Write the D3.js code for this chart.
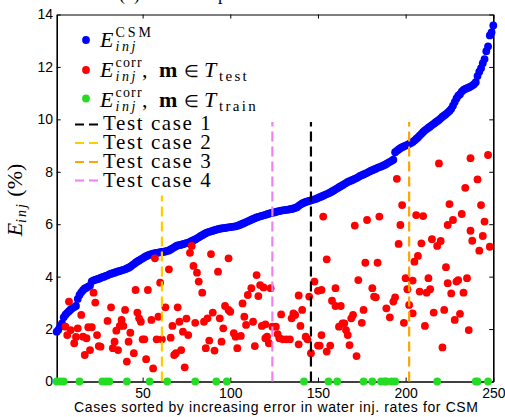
<!DOCTYPE html>
<html><head><meta charset="utf-8">
<script src="https://cdn.jsdelivr.net/npm/d3@7"></script>
<style>body{margin:0;background:#fff;} svg{display:block;}</style>
</head><body><svg id="c" width="505" height="417"></svg>
<script>
// ---- data ----
const csmError = [
1.90,1.98,2.10,2.22,2.45,2.55,2.62,2.68,2.75,2.80,
2.84,2.88,3.15,3.30,3.40,3.48,3.55,3.58,3.62,3.66,
3.82,3.86,3.88,3.90,3.92,3.95,3.98,4.00,4.03,4.05,
4.09,4.11,4.13,4.15,4.18,4.20,4.22,4.24,4.26,4.28,
4.31,4.34,4.38,4.43,4.48,4.53,4.58,4.62,4.66,4.70,
4.74,4.78,4.81,4.84,4.86,4.88,4.90,4.91,4.92,4.93,
4.94,4.95,4.96,4.98,5.00,5.04,5.08,5.12,5.16,5.19,
5.20,5.22,5.24,5.26,5.28,5.30,5.33,5.36,5.39,5.42,
5.46,5.50,5.54,5.58,5.62,5.66,5.69,5.71,5.73,5.75,
5.77,5.79,5.81,5.83,5.84,5.85,5.86,5.87,5.88,5.89,
5.90,5.91,5.92,5.94,5.96,5.99,6.02,6.05,6.08,6.11,
6.14,6.17,6.20,6.23,6.26,6.28,6.30,6.32,6.34,6.36,
6.38,6.40,6.42,6.44,6.45,6.47,6.49,6.50,6.52,6.53,
6.54,6.55,6.56,6.57,6.58,6.60,6.62,6.65,6.70,6.75,
6.79,6.82,6.85,6.87,6.89,6.91,6.93,6.95,6.97,7.00,
7.03,7.06,7.09,7.12,7.15,7.18,7.21,7.25,7.29,7.33,
7.37,7.41,7.45,7.49,7.53,7.57,7.61,7.64,7.67,7.70,
7.73,7.76,7.80,7.84,7.87,7.90,7.93,7.96,8.00,8.03,
8.06,8.09,8.12,8.15,8.18,8.20,8.23,8.26,8.30,8.34,
8.38,8.42,8.46,8.75,8.80,8.85,8.90,8.94,8.97,9.00,
9.03,9.06,9.10,9.14,9.19,9.25,9.31,9.38,9.45,9.52,
9.58,9.63,9.68,9.73,9.78,9.83,9.88,9.93,9.98,10.04,
10.10,10.15,10.20,10.26,10.32,10.40,10.52,10.66,10.80,10.90,
10.96,11.06,11.12,11.16,11.19,11.22,11.25,11.29,11.34,11.42,
11.65,11.82,11.95,12.14,12.30,12.60,12.78,13.20,13.32,13.58];

const trainCases = [1,3,5,14,27,29,31,41,54,64,80,92,98,142,156,161,176,181,186,188,189,192,194,218,240,241,247];

const testPoints = [
[8,3.05],[6,2.09],[9,1.96],[7,1.77],[11,1.46],[12,1.70],[13,2.03],[15,2.54],[16,1.71],[18,1.65],
[19,2.07],[21,2.07],[20,1.20],[17,1.01],[22,3.39],[23,3.01],[24,1.77],[25,1.35],[26,1.33],[30,2.31],
[32,2.83],[33,1.27],[34,1.52],[35,1.94],[37,2.12],[38,2.35],[39,2.12],[40,2.73],[36,1.20],[43,1.86],
[42,1.52],[45,1.08],[41,0.76],[46,3.49],[47,2.63],[48,2.41],[49,2.28],[50,1.61],[51,1.61],[52,0.85],
[53,3.49],[55,2.35],[56,0.50],[57,4.70],[58,1.61],[59,2.47],[60,3.77],[61,1.61],[63,2.83],[65,4.28],
[66,1.67],[67,2.12],[68,1.01],[69,1.08],[70,2.83],[71,2.28],[72,1.20],[73,1.90],[74,0.54],[75,2.40],
[76,1.77],[77,4.91],[78,5.17],[79,4.41],[80,2.24],[81,4.15],[82,3.81],[84,3.39],[85,2.28],[86,1.27],
[87,2.41],[88,1.56],[89,4.86],[90,2.63],[91,1.18],[93,4.19],[94,2.41],[95,1.52],[96,2.03],[97,2.88],
[99,4.70],[99,2.73],[100,2.66],[102,1.84],[103,1.71],[104,1.27],[106,1.74],[107,2.98],[108,2.47],[109,2.16],
[110,3.30],[112,3.56],[113,2.28],[114,1.35],[115,4.06],[116,3.26],[117,3.68],[118,2.12],[120,1.65],[122,1.46],
[123,3.56],[124,2.09],[119,3.59],[120,2.18],[121,1.71],[126,2.09],[127,1.81],[128,1.65],[129,2.56],[130,1.61],
[132,1.61],[134,1.61],[136,2.60],[137,2.54],[135,2.41],[139,3.28],[139,1.42],[140,2.12],[141,2.73],[143,1.71],
[144,1.61],[145,3.24],[146,1.08],[148,3.81],[150,3.46],[150,1.37],[151,1.37],[152,3.49],[152,1.77],[153,6.29],
[155,1.14],[155,4.66],[157,1.37],[158,3.08],[160,2.88],[160,3.56],[163,2.88],[162,2.09],[164,2.22],[165,2.22],
[166,1.96],[167,1.77],[168,1.39],[169,2.41],[170,2.54],[172,0.97],[171,5.95],[173,3.87],[175,2.24],[176,2.73],
[177,4.53],[178,6.16],[181,3.56],[182,3.24],[183,3.21],[184,4.53],[185,6.29],[189,2.79],[191,2.45],[193,3.05],
[194,3.21],[195,7.73],[196,5.25],[197,5.97],[198,6.73],[199,2.24],[200,3.94],[201,3.52],[202,2.92],[204,3.85],
[204,2.60],[205,4.57],[206,6.35],[207,4.79],[208,3.43],[209,5.27],[210,6.31],[211,2.12],[212,3.39],[213,3.94],
[214,3.52],[215,5.43],[216,2.63],[218,5.17],[219,8.32],[220,5.36],[221,1.30],[222,2.73],[223,4.36],[224,3.75],
[224,5.97],[225,6.77],[226,3.36],[227,6.16],[228,2.35],[229,3.81],[230,3.87],[231,2.58],[232,6.39],[233,3.39],
[234,7.39],[235,3.94],[236,1.96],[237,8.52],[237,5.75],[238,5.37],[241,7.71],[242,4.99],[243,6.73],[244,5.55],
[245,6.10],[247,8.64],[248,5.14]];

const caseNames = ["Test case 1","Test case 2","Test case 3","Test case 4"];
const caseIndex = [146, 61, 202, 124];
const caseTop = [9.9, 7.1, 9.9, 9.9];
const caseColors = ["#000000","#ffcc00","#ffa500","#ee82ee"];
const xTicks = [50,100,150,200,250];
const yTicks = [0,2,4,6,8,10,12,14];

// ---- drawing ----
const svg = d3.select("#c");
svg.append("rect").attr("width",505).attr("height",417).attr("fill","#fff");
const x = d3.scaleLinear().domain([1,250]).range([56.7,493.3]);
const y = d3.scaleLinear().domain([0,14]).range([381.5,14.5]);
const SERIF = "'Liberation Serif','Times New Roman',serif";
const SANS = "'Liberation Sans',Arial,sans-serif";

// title (clipped at the top edge, as in the reference)
svg.append("text").attr("x",119).attr("y",-0.5).attr("font-family",SERIF)
  .attr("font-size",18).text("(b) Error comparison");

// axes
function styleAxis(g){
  g.selectAll("path").attr("stroke","#000").attr("stroke-width",1.6);
  g.selectAll("line").attr("stroke","#000").attr("stroke-width",1);
  g.selectAll("text").attr("font-family",SANS).attr("font-size",14).attr("fill","#000");
}
svg.append("g").attr("transform","translate(0,381.5)")
  .call(d3.axisBottom(x).tickValues(xTicks).tickSizeInner(-4).tickSizeOuter(0).tickPadding(7)).call(styleAxis);
svg.append("g").attr("transform","translate(0,14.5)")
  .call(d3.axisTop(x).tickValues(xTicks).tickSizeInner(-4).tickSizeOuter(0).tickFormat("")).call(styleAxis)
  .selectAll("path").attr("stroke-width",1);
svg.append("g").attr("transform","translate(56.7,0)")
  .call(d3.axisLeft(y).tickValues(yTicks).tickSizeInner(-4).tickSizeOuter(0).tickPadding(3.7)).call(styleAxis);
svg.append("g").attr("transform","translate(493.3,0)")
  .call(d3.axisRight(y).tickValues(yTicks).tickSizeInner(-4).tickSizeOuter(0).tickFormat("")).call(styleAxis);

const R = 3.9;
// blue CSM
svg.append("g").selectAll("circle").data(csmError).join("circle")
  .attr("cx",(d,i)=>x(i+1)).attr("cy",d=>y(d)).attr("r",R).attr("fill","#0000ff");
// red test
svg.append("g").selectAll("circle").data(testPoints).join("circle")
  .attr("cx",d=>x(d[0])).attr("cy",d=>y(d[1])).attr("r",R).attr("fill","#ff0000");
// green train
svg.append("g").selectAll("circle").data(trainCases).join("circle")
  .attr("cx",d=>x(d)).attr("cy",y(0)).attr("r",R).attr("fill","#22dd22");

// test case lines
svg.append("g").selectAll("line").data(caseIndex).join("line")
  .attr("x1",d=>x(d)).attr("x2",d=>x(d))
  .attr("y1",y(0)).attr("y2",(d,i)=>y(caseTop[i]))
  .attr("stroke",(d,i)=>caseColors[i]).attr("stroke-width",2.2).attr("stroke-dasharray","10,5");

// legend
function t(xp, yp, s, size, opt){
  opt = opt||{};
  return svg.append("text").attr("x",xp).attr("y",yp).text(s)
    .attr("font-family",SERIF).attr("font-size",size)
    .attr("font-style",opt.it?"italic":"normal").attr("font-weight",opt.b?"bold":"normal")
    .attr("letter-spacing",opt.ls||0).attr("fill","#000");
}
const dotColors = ["#0000ff","#ff0000","#22dd22"];
const dotY = [40,70,98.5];
const rowBase = [47,77,106.5];
dotColors.forEach((c,i)=>{
  svg.append("circle").attr("cx",86).attr("cy",dotY[i]).attr("r",R).attr("fill",c);
  const b = rowBase[i];
  t(100,b,"E",22,{it:true});
  t(115.5,b-10,i===0?"CSM":"corr",14,{ls:i===0?3:1.2});
  t(115.5,b+4,"inj",14,{it:true,ls:2.5});
  if(i>0){
    t(142,b,",",22);
    t(159,b,"m",22,{b:true});
    t(184,b,"∈",17);
    t(204,b,"T",22,{it:true});
    t(219,b+4,i===1?"test":"train",15,{ls:2.3});
  }
});
const lineY = [124.5,143,162,180.5];
const textY = [130,149,168,187];
caseNames.forEach((n,i)=>{
  svg.append("line").attr("x1",75).attr("x2",98).attr("y1",lineY[i]).attr("y2",lineY[i])
    .attr("stroke",caseColors[i]).attr("stroke-width",2.2).attr("stroke-dasharray","9,5");
  t(103,textY[i],n,21,{ls:1.6});
});

// axis labels
svg.append("text").attr("x",276).attr("y",412).attr("text-anchor","middle")
  .attr("font-family",SANS).attr("font-size",14).attr("fill","#000")
  .attr("textLength",404).attr("lengthAdjust","spacing")
  .text("Cases sorted by increasing error in water inj. rates for CSM");
const yl = svg.append("text").attr("transform","translate(21.5,200) rotate(-90)")
  .attr("text-anchor","middle").attr("font-family",SERIF).attr("fill","#000");
yl.append("tspan").attr("font-size",22).attr("font-style","italic").text("E");
yl.append("tspan").attr("font-size",14).attr("font-style","italic").attr("dy",4).attr("letter-spacing",2).text("inj");
yl.append("tspan").attr("font-size",22).attr("dy",-4).text(" (%)");
</script></body></html>
